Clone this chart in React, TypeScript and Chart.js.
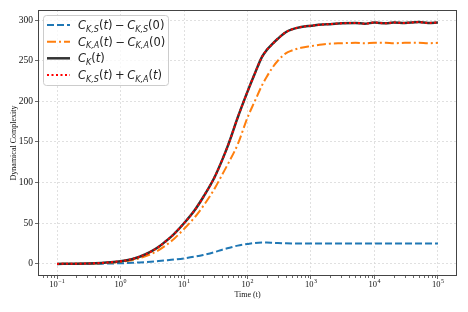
import React, { useEffect, useRef } from 'react';
import { Chart, registerables } from 'chart.js';

Chart.register(...registerables);

// ---- data ----
const TIMES = [0.1, 0.2, 0.3, 0.5, 0.7, 1, 1.5, 2, 3, 4, 5, 7, 10, 15, 20, 30, 40, 50, 70, 100, 130, 170, 200, 250, 300, 400, 500, 700, 1000, 1500, 2000, 3000, 5000, 7000, 10000, 15000, 20000, 30000, 50000, 70000, 100000];

const SERIES_CKS = [0, 0, 0.1, 0.3, 0.5, 0.8, 1.3, 1.8, 2.7, 3.5, 4.2, 5.3, 6.8, 9, 11, 14.5, 17.5, 19.5, 22.5, 24.5, 25.8, 26.3, 26.3, 26, 25.7, 25.3, 25.1, 25, 25, 25, 25, 25, 25, 25, 25, 25, 25, 25, 25, 25, 25];

const SERIES_CKA = [0, 0.2, 0.4, 0.9, 1.6, 2.5, 4.5, 7, 12, 17, 22, 31, 43, 58, 71, 92, 110, 124, 147, 180, 200, 220, 230, 242, 250, 259, 262.5, 266, 268, 270, 271, 271.5, 272, 271.5, 272, 272, 271.5, 272, 272, 271.5, 272];

const SERIES_CK = [0, 0.2, 0.5, 1.2, 2, 3.3, 5.8, 8.8, 15, 21, 27, 37, 50, 67, 82, 106, 128, 147, 180, 212, 234, 255, 263, 271, 277, 285, 288.5, 291.5, 293, 294.5, 295, 296, 296.5, 295.5, 297, 296, 297, 296.5, 297.5, 296.5, 297];

const SERIES_SUM = [0, 0.2, 0.5, 1.2, 2, 3.3, 5.8, 8.8, 15, 21, 27, 37, 50, 67, 82, 106, 128, 147, 180, 212, 234, 255, 263, 271, 277, 285, 288.5, 291.5, 293, 294.5, 295, 296, 296.5, 295.5, 297, 296, 297, 296.5, 297.5, 296.5, 297];

const Y_TICKS = [0, 50, 100, 150, 200, 250, 300];
const X_DECADES = [-1, 0, 1, 2, 3, 4, 5];
const X_LABEL = 'Time (t)';
const Y_LABEL = 'Dynamical Complexity';

type Seg = { s: string; it?: boolean; sub?: boolean; op?: boolean };
const LEGEND_ROWS: Seg[][] = [
  [{ s: 'C', it: true }, { s: 'K,S', it: true, sub: true }, { s: '(' }, { s: 't', it: true }, { s: ')' }, { s: '−', op: true }, { s: 'C', it: true }, { s: 'K,S', it: true, sub: true }, { s: '(0)' }],
  [{ s: 'C', it: true }, { s: 'K,A', it: true, sub: true }, { s: '(' }, { s: 't', it: true }, { s: ')' }, { s: '−', op: true }, { s: 'C', it: true }, { s: 'K,A', it: true, sub: true }, { s: '(0)' }],
  [{ s: 'C', it: true }, { s: 'K', it: true, sub: true }, { s: '(' }, { s: 't', it: true }, { s: ')' }],
  [{ s: 'C', it: true }, { s: 'K,S', it: true, sub: true }, { s: '(' }, { s: 't', it: true }, { s: ')' }, { s: '+', op: true }, { s: 'C', it: true }, { s: 'K,A', it: true, sub: true }, { s: '(' }, { s: 't', it: true }, { s: ')' }],
];

const BLUE = '#1f77b4';
const ORANGE = '#ff7f0e';
const DARK = '#333333';
const RED = '#ff0000';

const STYLES = [
  { color: BLUE, width: 2, dash: [7, 3] },
  { color: ORANGE, width: 2, dash: [9, 3, 2, 3] },
  { color: DARK, width: 2.5, dash: [] as number[] },
  { color: RED, width: 2, dash: [2, 2.5] },
];

const SERIF = '"Liberation Serif", "Times New Roman", serif';
const SANS = '"DejaVu Sans", sans-serif';

function drawMath(ctx: CanvasRenderingContext2D, segs: Seg[], x: number, y: number, size: number, family: string) {
  let cx = x;
  for (const g of segs) {
    const sz = g.sub ? size * 0.7 : size;
    ctx.font = `${g.it ? 'italic ' : ''}${sz}px ${family}`;
    const gap = g.op ? size * 0.22 : 0;
    cx += gap;
    ctx.fillText(g.s, cx, g.sub ? y + size * 0.22 : y);
    cx += ctx.measureText(g.s).width + gap;
  }
  return cx - x;
}

const decorPlugin = {
  id: 'decor',
  afterDraw(chart: any) {
    const ctx: CanvasRenderingContext2D = chart.ctx;
    const a = chart.chartArea;
    const xs = chart.scales.x;
    ctx.save();
    // frame
    ctx.strokeStyle = '#444';
    ctx.lineWidth = 1;
    ctx.setLineDash([]);
    ctx.strokeRect(Math.round(a.left) + 0.5, Math.round(a.top) + 0.5, Math.round(a.right - a.left) - 1, Math.round(a.bottom - a.top) - 1);
    // minor ticks on x
    ctx.strokeStyle = '#444';
    ctx.lineWidth = 0.8;
    for (let d = -2; d <= 5; d++) {
      for (let k = 2; k <= 9; k++) {
        const v = k * Math.pow(10, d);
        if (v < xs.min || v > xs.max) continue;
        const px = Math.round(xs.getPixelForValue(v)) + 0.5;
        ctx.beginPath();
        ctx.moveTo(px, a.bottom);
        ctx.lineTo(px, a.bottom + 2);
        ctx.stroke();
      }
    }
    // x tick labels 10^n
    ctx.fillStyle = '#111';
    ctx.textBaseline = 'alphabetic';
    ctx.textAlign = 'left';
    for (const n of X_DECADES) {
      const px = xs.getPixelForValue(Math.pow(10, n));
      ctx.font = `8.5px ${SERIF}`;
      const w1 = ctx.measureText('10').width;
      const e = n < 0 ? '−' + Math.abs(n) : String(n);
      ctx.font = `6px ${SERIF}`;
      const w2 = ctx.measureText(e).width;
      const start = px - (w1 + w2 + 0.5) / 2;
      ctx.font = `8.5px ${SERIF}`;
      ctx.fillText('10', start, 287);
      ctx.font = `6px ${SERIF}`;
      ctx.fillText(e, start + w1 + 0.5, 283);
    }
    // x title
    ctx.font = `8px ${SERIF}`;
    ctx.textAlign = 'center';
    ctx.fillText(X_LABEL, (a.left + a.right) / 2, 296.5);
    // y title
    ctx.save();
    ctx.translate(14, (a.top + a.bottom) / 2);
    ctx.rotate(-Math.PI / 2);
    ctx.textBaseline = 'middle';
    ctx.fillText(Y_LABEL, 0, 0);
    ctx.restore();
    // legend
    const bx = 43, by = 15, bw = 125, bh = 70;
    ctx.beginPath();
    (ctx as any).roundRect(bx + 0.5, by + 0.5, bw, bh, 3);
    ctx.fillStyle = 'rgba(255,255,255,0.8)';
    ctx.fill();
    ctx.strokeStyle = '#cccccc';
    ctx.lineWidth = 1;
    ctx.stroke();
    const rowY = [25, 41.7, 58.3, 75];
    ctx.textAlign = 'left';
    ctx.textBaseline = 'alphabetic';
    LEGEND_ROWS.forEach((segs, i) => {
      const st = STYLES[i];
      ctx.strokeStyle = st.color;
      ctx.lineWidth = st.width;
      ctx.setLineDash(st.dash);
      ctx.beginPath();
      ctx.moveTo(47, rowY[i]);
      ctx.lineTo(70, rowY[i]);
      ctx.stroke();
      ctx.setLineDash([]);
      ctx.fillStyle = '#222';
      drawMath(ctx, segs, 78, rowY[i] + 4, 11.5, SANS);
    });
    ctx.restore();
  },
};

export default function App() {
  const ref = useRef<HTMLCanvasElement>(null);
  useEffect(() => {
    document.body.style.margin = '0';
    const mk = (vals: number[]) => TIMES.map((t, i) => ({ x: t, y: vals[i] }));
    const labels = ['C_K,S(t) − C_K,S(0)', 'C_K,A(t) − C_K,A(0)', 'C_K(t)', 'C_K,S(t) + C_K,A(t)'];
    const series = [SERIES_CKS, SERIES_CKA, SERIES_CK, SERIES_SUM];
    const chart = new Chart(ref.current as HTMLCanvasElement, {
      type: 'line',
      data: {
        datasets: series.map((s, i) => ({
          label: labels[i],
          data: mk(s),
          borderColor: STYLES[i].color,
          borderWidth: STYLES[i].width,
          borderDash: STYLES[i].dash,
          pointRadius: 0,
          cubicInterpolationMode: 'monotone' as const,
          fill: false,
          order: 4 - i,
        })),
      },
      options: {
        animation: false,
        responsive: false,
        devicePixelRatio: 1,
        layout: { padding: { left: 0, right: 11, top: 10, bottom: 0 } },
        plugins: { legend: { display: false }, tooltip: { enabled: false } },
        scales: {
          x: {
            type: 'logarithmic',
            min: Math.pow(10, -1.3),
            max: Math.pow(10, 5.3),
            afterBuildTicks: (scale: any) => {
              scale.ticks = X_DECADES.map((n) => ({ value: Math.pow(10, n) }));
            },
            afterFit: (scale: any) => { scale.height = 36; },
            grid: {
              color: '#d9d9d9',
              lineWidth: 0.8,
              tickColor: '#444',
              tickLength: 3,
              tickWidth: 0.8,
            },
            border: { display: false, dash: [2, 2] },
            ticks: { callback: () => '', autoSkip: false, maxRotation: 0 },
          },
          y: {
            type: 'linear',
            min: -14.9,
            max: 312.4,
            afterBuildTicks: (scale: any) => {
              scale.ticks = Y_TICKS.map((v) => ({ value: v }));
            },
            afterFit: (scale: any) => { scale.width = 38; },
            grid: {
              color: '#d9d9d9',
              lineWidth: 0.8,
              tickColor: '#444',
              tickLength: 3,
              tickWidth: 0.8,
            },
            border: { display: false, dash: [2, 2] },
            ticks: {
              font: { family: SERIF, size: 9.5 },
              color: '#111',
              padding: 2,
              callback: (v: any) => String(v),
            },
          },
        },
      },
      plugins: [decorPlugin],
    });
    return () => chart.destroy();
  }, []);
  return (
    <div style={{ position: 'fixed', left: 0, top: 0, width: 468, height: 312 }}>
      <canvas ref={ref} width={468} height={312} style={{ width: 468, height: 312 }} />
    </div>
  );
}
